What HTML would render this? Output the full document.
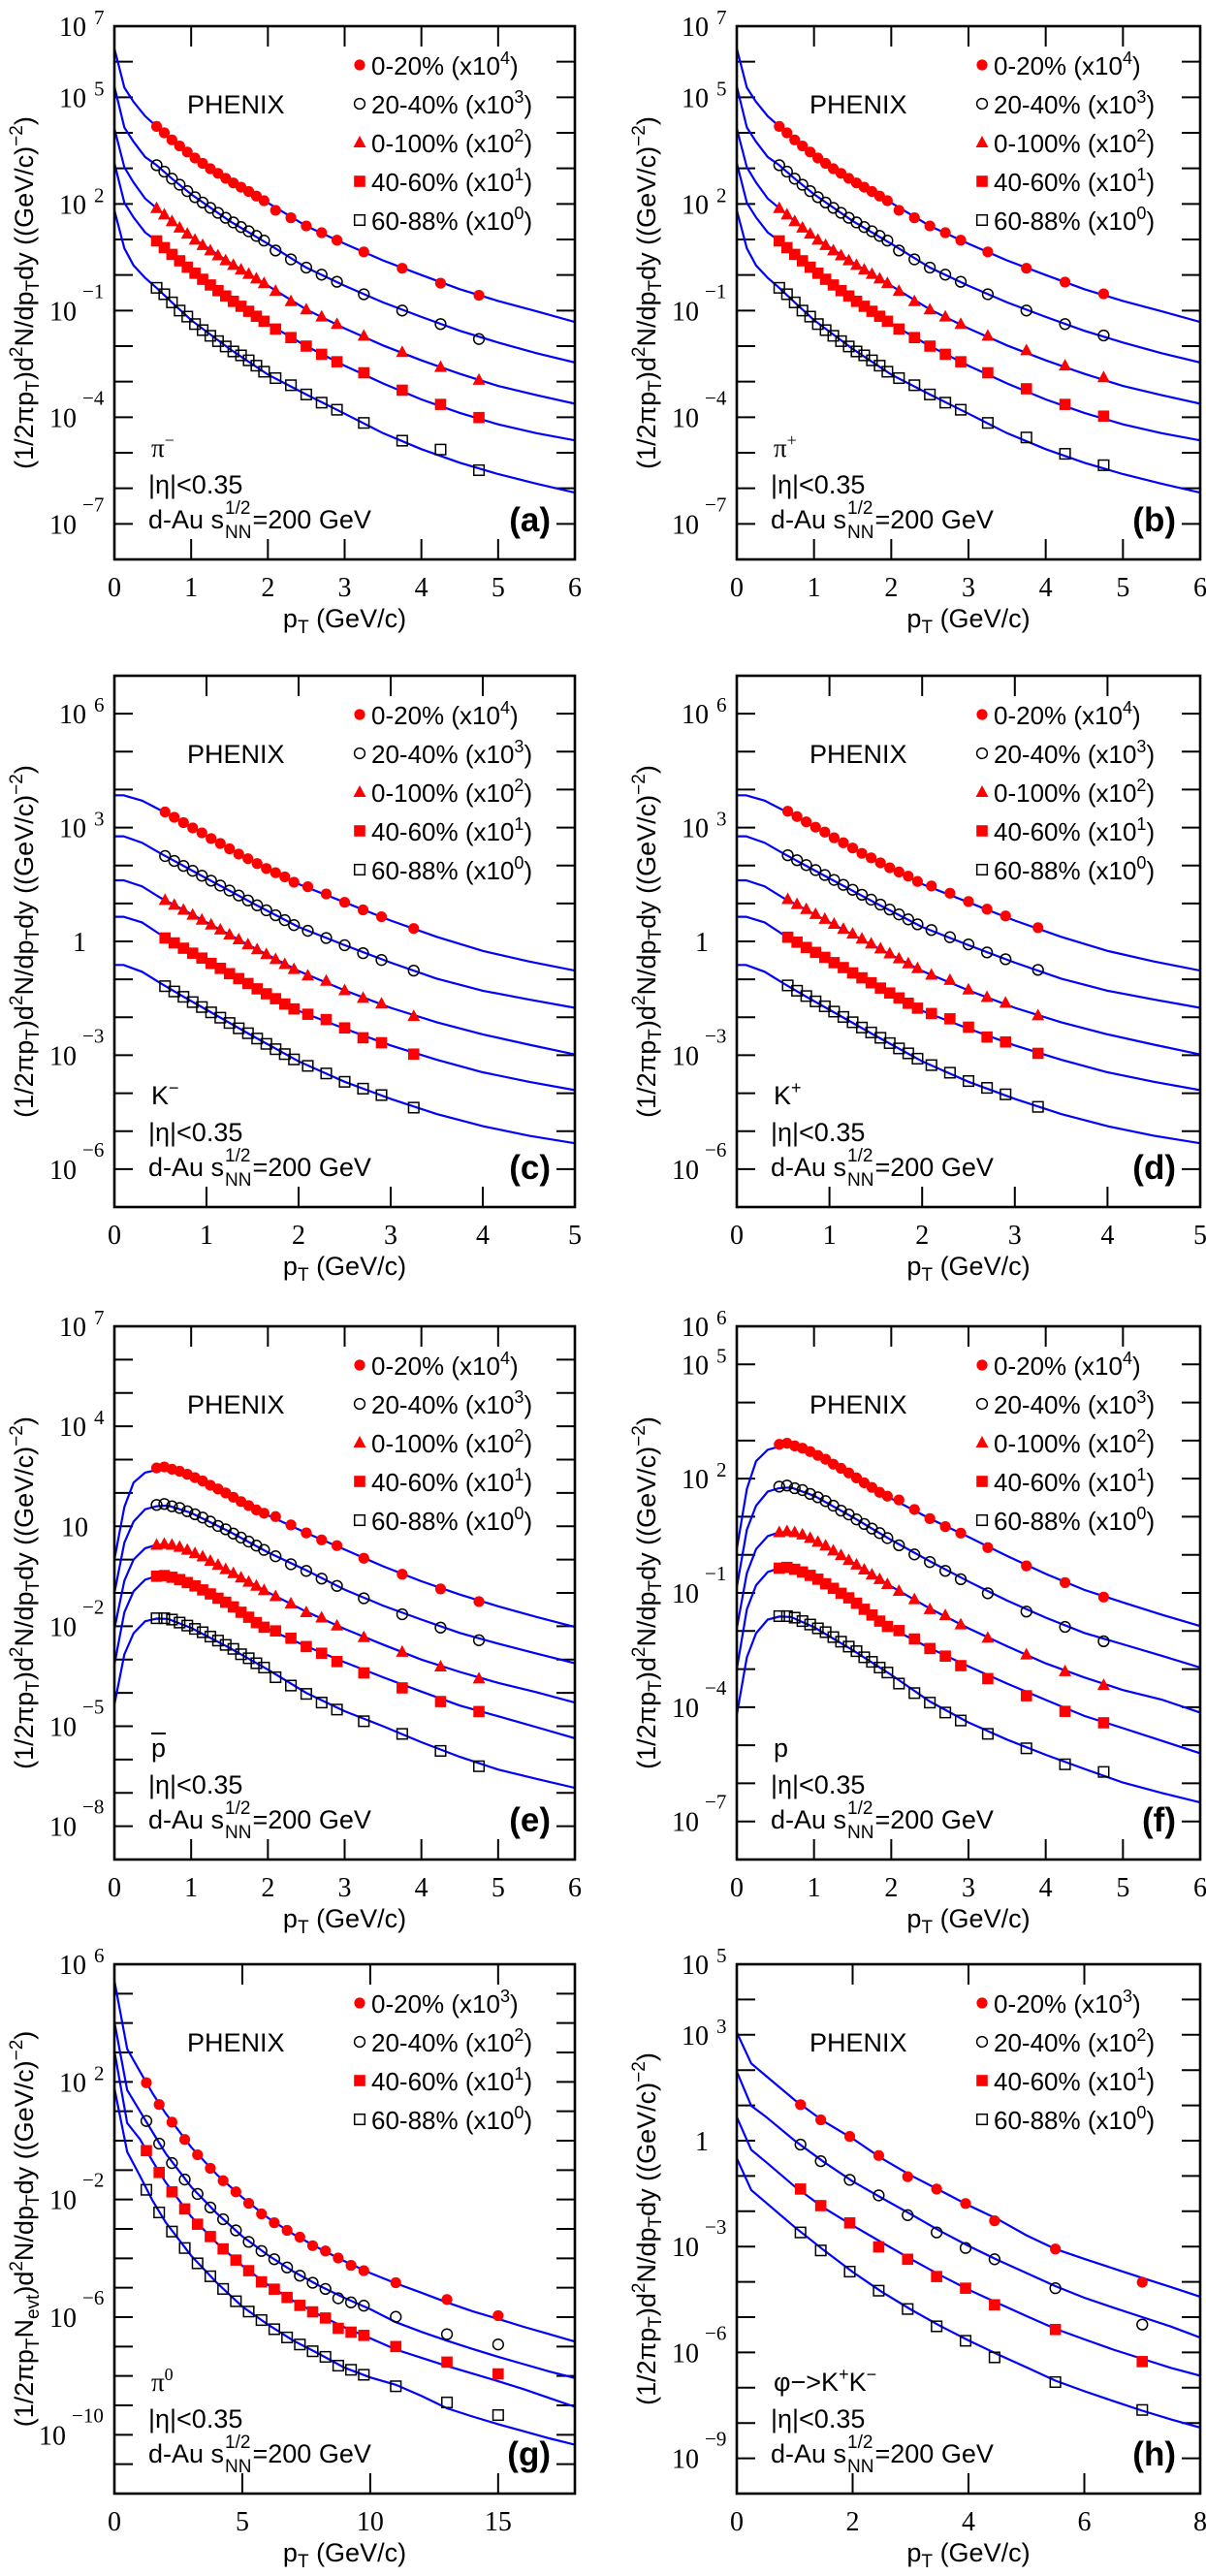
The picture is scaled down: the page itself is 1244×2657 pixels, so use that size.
<!DOCTYPE html>
<html><head><meta charset="utf-8"><title>PHENIX d-Au spectra</title>
<style>
html,body{margin:0;padding:0;background:#fff;}
svg{display:block;}
.serif{font-family:"Liberation Serif","DejaVu Serif",serif;}
.sans{font-family:"Liberation Sans","DejaVu Sans",sans-serif;}
</style></head>
<body>
<svg id="fig" xmlns="http://www.w3.org/2000/svg" width="1244" height="2657" viewBox="0 0 1244 2657">
<rect x="0" y="0" width="1244" height="2657" fill="#fff"/>
</svg>
<script>
// ---------- data (log10 of yield) ----------
const ptPi = [0.55,0.65,0.75,0.85,0.95,1.05,1.15,1.25,1.35,1.45,1.55,1.65,1.75,1.85,1.95,2.1,2.3,2.5,2.7,2.9,3.25,3.75,4.25,4.75];
const piM_0020 = [4.18,4.00,3.80,3.63,3.46,3.29,3.14,2.99,2.86,2.72,2.59,2.47,2.35,2.22,2.09,1.82,1.61,1.38,1.19,0.98,0.65,0.19,-0.23,-0.57];
const piM_2040 = [3.09,2.91,2.71,2.54,2.36,2.19,2.04,1.89,1.75,1.61,1.48,1.35,1.23,1.10,0.97,0.69,0.44,0.21,0.01,-0.19,-0.54,-1.0,-1.38,-1.80];
const piM_00100 = [1.88,1.70,1.51,1.33,1.16,0.99,0.84,0.69,0.55,0.41,0.28,0.15,0.03,-0.10,-0.23,-0.45,-0.74,-0.97,-1.17,-1.38,-1.71,-2.17,-2.59,-2.95];
const piM_4060 = [0.96,0.77,0.58,0.40,0.22,0.05,-0.12,-0.28,-0.44,-0.59,-0.74,-0.88,-1.02,-1.16,-1.30,-1.52,-1.76,-2.0,-2.23,-2.44,-2.75,-3.24,-3.64,-4.01];
const piM_6088 = [-0.36,-0.54,-0.77,-1.0,-1.17,-1.38,-1.55,-1.71,-1.86,-2.01,-2.15,-2.26,-2.40,-2.55,-2.72,-2.90,-3.10,-3.36,-3.59,-3.79,-4.16,-4.66,-4.91,-5.49];
const piP_0020 = [4.18,4.00,3.80,3.63,3.46,3.29,3.14,2.99,2.86,2.72,2.59,2.47,2.35,2.22,2.09,1.82,1.61,1.38,1.19,0.98,0.65,0.19,-0.20,-0.53];
const piP_2040 = [3.09,2.91,2.71,2.54,2.36,2.19,2.04,1.89,1.75,1.61,1.48,1.35,1.23,1.10,0.97,0.69,0.44,0.21,0.01,-0.19,-0.54,-1.0,-1.38,-1.70];
const piP_00100 = [1.88,1.70,1.51,1.33,1.16,0.99,0.84,0.69,0.55,0.41,0.28,0.15,0.03,-0.10,-0.23,-0.45,-0.74,-0.97,-1.17,-1.38,-1.71,-2.12,-2.55,-2.88];
const piP_4060 = [0.96,0.77,0.58,0.40,0.22,0.05,-0.12,-0.28,-0.44,-0.59,-0.74,-0.88,-1.02,-1.16,-1.30,-1.52,-1.76,-2.0,-2.23,-2.44,-2.75,-3.20,-3.64,-3.97];
const piP_6088 = [-0.36,-0.54,-0.77,-1.0,-1.17,-1.38,-1.55,-1.71,-1.86,-2.01,-2.15,-2.26,-2.40,-2.55,-2.72,-2.90,-3.10,-3.36,-3.59,-3.79,-4.16,-4.57,-5.03,-5.35];
const fitXPi = [0,0.13,0.25,0.4,0.55,0.75,1,1.5,2,2.5,3,3.5,4,4.5,5,5.5,6];
const fitPi_0020 = [6.37,5.27,4.87,4.47,4.18,3.80,3.37,2.65,2.03,1.38,0.88,0.41,0.0,-0.40,-0.73,-1.02,-1.32];
const fitPi_2040 = [5.30,4.15,3.75,3.32,3.09,2.71,2.27,1.52,0.88,0.21,-0.30,-0.77,-1.18,-1.57,-1.90,-2.2,-2.46];
const fitPi_00100 = [4.12,3.03,2.6,2.15,1.88,1.51,1.07,0.35,-0.30,-0.97,-1.5,-1.98,-2.4,-2.78,-3.12,-3.38,-3.62];
const fitPi_4060 = [3.15,2.03,1.62,1.2,0.96,0.58,0.14,-0.66,-1.37,-2.0,-2.55,-3.05,-3.5,-3.88,-4.2,-4.45,-4.65];
const fitPi_6088 = [1.82,0.75,0.27,-0.08,-0.36,-0.77,-1.27,-2.08,-2.8,-3.36,-3.9,-4.45,-4.9,-5.28,-5.6,-5.87,-6.12];

const ptK = [0.55,0.65,0.75,0.85,0.95,1.05,1.15,1.25,1.35,1.45,1.55,1.65,1.75,1.85,1.95,2.1,2.3,2.5,2.7,2.9,3.25];
const kM_0020 = [3.41,3.27,3.13,2.99,2.86,2.71,2.58,2.44,2.30,2.18,2.05,1.92,1.81,1.70,1.56,1.44,1.25,1.03,0.83,0.65,0.34];
const kM_2040 = [2.25,2.12,1.99,1.86,1.73,1.60,1.47,1.34,1.21,1.08,0.95,0.82,0.69,0.56,0.43,0.28,0.09,-0.10,-0.31,-0.49,-0.77];
const kM_00100 = [1.09,0.96,0.83,0.70,0.57,0.44,0.31,0.18,0.05,-0.08,-0.21,-0.34,-0.47,-0.60,-0.73,-0.90,-1.04,-1.29,-1.49,-1.64,-1.97];
const kM_4060 = [0.09,-0.04,-0.18,-0.31,-0.44,-0.58,-0.71,-0.85,-0.98,-1.11,-1.25,-1.38,-1.51,-1.65,-1.78,-1.92,-2.06,-2.28,-2.54,-2.67,-2.97];
const kM_6088 = [-1.18,-1.32,-1.46,-1.60,-1.73,-1.87,-2.01,-2.15,-2.29,-2.42,-2.56,-2.70,-2.84,-2.97,-3.11,-3.28,-3.48,-3.70,-3.88,-4.05,-4.38];
const kP_0020 = [3.43,3.29,3.15,3.01,2.88,2.73,2.60,2.46,2.32,2.20,2.07,1.94,1.83,1.72,1.58,1.46,1.27,1.05,0.85,0.67,0.36];
const kP_2040 = [2.27,2.14,2.01,1.88,1.75,1.62,1.49,1.36,1.23,1.10,0.97,0.84,0.71,0.58,0.45,0.30,0.11,-0.08,-0.29,-0.47,-0.75];
const kP_00100 = [1.11,0.98,0.85,0.72,0.59,0.46,0.33,0.20,0.07,-0.06,-0.19,-0.32,-0.45,-0.58,-0.71,-0.88,-1.02,-1.27,-1.47,-1.62,-1.95];
const kP_4060 = [0.11,-0.02,-0.16,-0.29,-0.42,-0.56,-0.69,-0.83,-0.96,-1.09,-1.23,-1.36,-1.49,-1.63,-1.76,-1.90,-2.04,-2.26,-2.52,-2.65,-2.95];
const kP_6088 = [-1.16,-1.30,-1.44,-1.58,-1.71,-1.85,-1.99,-2.13,-2.27,-2.40,-2.54,-2.68,-2.82,-2.95,-3.09,-3.26,-3.46,-3.68,-3.86,-4.03,-4.36];
const fitXK = [0,0.1,0.3,0.5,0.75,1,1.5,2,2.5,3,3.5,4,4.5,5];
const fitK_0020 = [3.85,3.85,3.71,3.46,3.13,2.79,2.12,1.51,1.03,0.55,0.12,-0.25,-0.53,-0.77];
const fitK_2040 = [2.77,2.77,2.6,2.32,1.99,1.66,1.01,0.38,-0.10,-0.56,-0.98,-1.3,-1.53,-1.75];
const fitK_00100 = [1.61,1.61,1.45,1.15,0.83,0.50,-0.15,-0.78,-1.29,-1.75,-2.13,-2.45,-2.72,-2.98];
const fitK_4060 = [0.65,0.65,0.5,0.18,-0.18,-0.51,-1.18,-1.83,-2.3,-2.74,-3.12,-3.45,-3.7,-3.92];
const fitK_6088 = [-0.62,-0.62,-0.8,-1.1,-1.46,-1.80,-2.49,-3.16,-3.70,-4.15,-4.55,-4.87,-5.12,-5.32];

const ptP = [0.55,0.65,0.75,0.85,0.95,1.05,1.15,1.25,1.35,1.45,1.55,1.65,1.75,1.85,1.95,2.1,2.3,2.5,2.7,2.9,3.25,3.75,4.25,4.75];
const pbar_0020 = [2.75,2.78,2.71,2.65,2.56,2.46,2.36,2.23,2.12,2.0,1.87,1.74,1.62,1.49,1.39,1.29,1.04,0.80,0.59,0.42,0.04,-0.44,-0.88,-1.26];
const pbar_2040 = [1.64,1.67,1.60,1.55,1.45,1.36,1.26,1.14,1.01,0.91,0.78,0.66,0.54,0.42,0.29,0.10,-0.14,-0.34,-0.57,-0.79,-1.16,-1.64,-2.04,-2.42];
const pbar_00100 = [0.44,0.47,0.44,0.38,0.29,0.19,0.09,-0.04,-0.16,-0.29,-0.41,-0.54,-0.67,-0.79,-0.92,-1.10,-1.32,-1.58,-1.74,-1.98,-2.33,-2.77,-3.21,-3.57];
const pbar_4060 = [-0.50,-0.48,-0.53,-0.60,-0.69,-0.79,-0.91,-1.03,-1.16,-1.28,-1.42,-1.58,-1.73,-1.89,-2.03,-2.14,-2.36,-2.61,-2.81,-3.06,-3.40,-3.85,-4.26,-4.56];
const pbar_6088 = [-1.76,-1.76,-1.80,-1.89,-1.98,-2.08,-2.18,-2.31,-2.43,-2.56,-2.68,-2.84,-2.96,-3.11,-3.24,-3.53,-3.78,-4.03,-4.29,-4.50,-4.85,-5.23,-5.74,-6.20];
const prot_0020 = [2.90,2.93,2.86,2.80,2.71,2.61,2.51,2.38,2.27,2.15,2.02,1.89,1.77,1.64,1.54,1.44,1.19,0.95,0.74,0.57,0.19,-0.29,-0.73,-1.11];
const prot_2040 = [1.79,1.82,1.75,1.70,1.60,1.51,1.41,1.29,1.16,1.06,0.93,0.81,0.69,0.57,0.44,0.25,0.01,-0.19,-0.42,-0.64,-1.01,-1.49,-1.89,-2.27];
const prot_00100 = [0.59,0.62,0.59,0.53,0.44,0.34,0.24,0.11,-0.01,-0.14,-0.26,-0.39,-0.52,-0.64,-0.77,-0.95,-1.17,-1.43,-1.59,-1.83,-2.18,-2.62,-3.06,-3.42];
const prot_4060 = [-0.35,-0.33,-0.38,-0.45,-0.54,-0.64,-0.76,-0.88,-1.01,-1.13,-1.27,-1.43,-1.58,-1.74,-1.88,-1.99,-2.21,-2.46,-2.66,-2.91,-3.25,-3.70,-4.11,-4.41];
const prot_6088 = [-1.61,-1.61,-1.65,-1.74,-1.83,-1.93,-2.03,-2.16,-2.28,-2.41,-2.53,-2.69,-2.81,-2.96,-3.09,-3.38,-3.63,-3.88,-4.14,-4.35,-4.70,-5.08,-5.50,-5.70];
const fitXP = [0,0.13,0.25,0.4,0.55,0.7,1,1.5,2,2.5,3,3.5,4,4.5,5,5.5,6];
const fitPbar_0020 = [0.0,1.58,2.31,2.61,2.69,2.71,2.5,1.92,1.33,0.8,0.30,-0.2,-0.65,-1.05,-1.4,-1.72,-2.02];
const fitPbar_2040 = [-1.0,0.51,1.14,1.51,1.6,1.62,1.40,0.84,0.22,-0.32,-0.9,-1.38,-1.8,-2.2,-2.52,-2.82,-3.11];
const fitPbar_00100 = [-2.08,-0.63,0.0,0.34,0.44,0.44,0.22,-0.35,-0.98,-1.56,-2.08,-2.55,-3.0,-3.37,-3.7,-3.98,-4.29];
const fitPbar_4060 = [-3.15,-1.58,-0.95,-0.6,-0.5,-0.5,-0.74,-1.37,-2.08,-2.6,-3.08,-3.53,-3.96,-4.38,-4.7,-5.03,-5.36];
const fitPbar_6088 = [-4.35,-2.84,-2.21,-1.85,-1.77,-1.78,-2.05,-2.65,-3.3,-4.0,-4.55,-5.0,-5.48,-5.92,-6.3,-6.58,-6.85];
const fitProt_0020 = [0.15,1.73,2.46,2.76,2.84,2.86,2.65,2.07,1.48,0.95,0.47,-0.03,-0.50,-0.92,-1.25,-1.57,-1.87];
const fitProt_2040 = [-0.85,0.66,1.29,1.66,1.75,1.77,1.55,0.99,0.39,-0.17,-0.70,-1.20,-1.65,-2.05,-2.35,-2.65,-2.96];
const fitProt_00100 = [-1.93,-0.48,0.15,0.49,0.59,0.59,0.37,-0.20,-0.83,-1.41,-1.93,-2.40,-2.85,-3.22,-3.55,-3.80,-4.14];
const fitProt_4060 = [-3.0,-1.43,-0.80,-0.45,-0.35,-0.35,-0.59,-1.22,-1.93,-2.45,-2.93,-3.38,-3.81,-4.23,-4.55,-4.88,-5.21];
const fitProt_6088 = [-4.2,-2.69,-2.06,-1.70,-1.62,-1.63,-1.90,-2.50,-3.15,-3.85,-4.40,-4.85,-5.25,-5.62,-5.98,-6.25,-6.5];

const ptPi0 = [1.25,1.75,2.25,2.75,3.25,3.75,4.25,4.75,5.25,5.75,6.25,6.75,7.25,7.75,8.25,8.75,9.25,9.75,11,13,15];
const pi0_0020 = [1.97,1.23,0.63,0.04,-0.48,-0.94,-1.36,-1.74,-2.13,-2.49,-2.79,-3.05,-3.28,-3.57,-3.75,-3.99,-4.24,-4.42,-4.83,-5.40,-5.95];
const pi0_2040 = [0.67,-0.10,-0.76,-1.32,-1.81,-2.27,-2.67,-3.05,-3.44,-3.75,-4.03,-4.31,-4.59,-4.83,-5.04,-5.36,-5.50,-5.61,-5.99,-6.58,-6.93];
const pi0_4060 = [-0.34,-1.08,-1.74,-2.32,-2.84,-3.26,-3.68,-4.06,-4.42,-4.80,-5.05,-5.33,-5.60,-5.82,-6.03,-6.38,-6.51,-6.62,-7.0,-7.53,-7.93];
const pi0_6088 = [-1.67,-2.44,-3.09,-3.65,-4.17,-4.61,-5.04,-5.46,-5.81,-6.10,-6.41,-6.69,-6.93,-7.16,-7.35,-7.65,-7.79,-7.96,-8.35,-8.90,-9.33];
const fitXPi0 = [0,0.5,1,1.5,2,3,4,5,6,7,8,9,10,11,12,13,14,15,16,17,18];
const fitPi0_0020 = [5.44,3.12,2.35,1.6,0.93,-0.22,-1.15,-1.93,-2.62,-3.18,-3.66,-4.1,-4.5,-4.85,-5.17,-5.5,-5.8,-6.06,-6.33,-6.58,-6.83];
const fitPi0_2040 = [4.04,1.72,1.0,0.28,-0.43,-1.57,-2.47,-3.25,-3.89,-4.45,-4.93,-5.35,-5.73,-6.17,-6.5,-6.8,-7.08,-7.35,-7.6,-7.85,-8.07];
const fitPi0_4060 = [3.05,0.6,0.05,-0.71,-1.41,-2.58,-3.48,-4.25,-4.9,-5.45,-5.92,-6.35,-6.72,-7.1,-7.38,-7.66,-7.92,-8.18,-8.45,-8.75,-9.05];
const fitPi0_6088 = [1.79,-0.38,-1.2,-2.05,-2.77,-3.91,-4.83,-5.64,-6.25,-6.8,-7.25,-7.72,-8.05,-8.3,-8.68,-9.1,-9.38,-9.64,-9.88,-10.12,-10.34];

const ptPhi = [1.1,1.45,1.95,2.45,2.95,3.45,3.95,4.45,5.5,7.0];
const phi_0020 = [1.02,0.59,0.12,-0.42,-1.02,-1.37,-1.78,-2.27,-3.07,-4.01];
const phi_2040 = [-0.11,-0.58,-1.11,-1.55,-2.11,-2.60,-3.04,-3.36,-4.18,-5.21];
const phi_4060 = [-1.37,-1.84,-2.33,-3.01,-3.36,-3.85,-4.18,-4.65,-5.35,-6.26];
const phi_6088 = [-2.60,-3.11,-3.71,-4.25,-4.77,-5.26,-5.67,-6.14,-6.84,-7.63];
const fitXPhi = [0,0.25,0.5,1,1.5,2,2.5,3,3.5,4,4.5,5,5.5,6,6.5,7,7.5,8];
const fitPhi_0020 = [3.07,2.19,1.84,1.15,0.55,0.06,-0.5,-0.98,-1.40,-1.83,-2.22,-2.68,-3.07,-3.35,-3.62,-3.89,-4.15,-4.42];
const fitPhi_2040 = [1.96,0.99,0.68,0.0,-0.6,-1.15,-1.62,-2.08,-2.55,-2.98,-3.38,-3.75,-4.12,-4.45,-4.73,-5.0,-5.27,-5.58];
const fitPhi_4060 = [0.67,-0.26,-0.6,-1.3,-1.9,-2.4,-2.88,-3.35,-3.8,-4.22,-4.6,-4.97,-5.33,-5.63,-5.92,-6.18,-6.44,-6.66];
const fitPhi_6088 = [-0.50,-1.40,-1.75,-2.45,-3.1,-3.72,-4.28,-4.78,-5.24,-5.66,-6.05,-6.42,-6.8,-7.1,-7.38,-7.65,-7.9,-8.13];

const legendCent5 = ['0-20%','20-40%','0-100%','40-60%','60-88%'];
const legendExp5 = [4,3,2,1,0];
const legendCent4 = ['0-20%','20-40%','40-60%','60-88%'];
const legendExp4 = [3,2,1,0];
const seriesKeys5 = ['0020','2040','00100','4060','6088'];
const seriesKeys4 = ['0020','2040','4060','6088'];
const xTicks6 = [0,1,2,3,4,5,6];
const xTicks5 = [0,1,2,3,4,5];
const xTicks18 = [0,5,10,15];
const xTicks8 = [0,2,4,6,8];

// ---------- layout ----------
const NS = 'http://www.w3.org/2000/svg';
const svg = document.getElementById('fig');
const M5 = ['fcircle','ocircle','ftri','fsq','osq'];
const M4 = ['fcircle','ocircle','fsq','osq'];
const LX = [118, 593], RX = [760, 1238];
const ROWS = [[27,577],[697,1245],[1368,1918],[2026,2572]];
const panels = [
 {id:'a', X:LX, Y:ROWS[0], xmax:6, ymin:-8, ymax:7, xt:xTicks6, yl:[7,5,2,-1,-4,-7], pt:ptPi, ser:[piM_0020,piM_2040,piM_00100,piM_4060,piM_6088], fx:fitXPi, fits:[fitPi_0020,fitPi_2040,fitPi_00100,fitPi_4060,fitPi_6088], n:5, sp:'π<tspan dy="-11" font-size="18">−</tspan>', spSerif:true, tag:'(a)', nevt:false},
 {id:'b', X:RX, Y:ROWS[0], xmax:6, ymin:-8, ymax:7, xt:xTicks6, yl:[7,5,2,-1,-4,-7], pt:ptPi, ser:[piP_0020,piP_2040,piP_00100,piP_4060,piP_6088], fx:fitXPi, fits:[fitPi_0020,fitPi_2040,fitPi_00100,fitPi_4060,fitPi_6088], n:5, sp:'π<tspan dy="-11" font-size="18">+</tspan>', spSerif:true, tag:'(b)', nevt:false},
 {id:'c', X:LX, Y:ROWS[1], xmax:5, ymin:-7, ymax:7, xt:xTicks5, yl:[6,3,0,-3,-6], pt:ptK, ser:[kM_0020,kM_2040,kM_00100,kM_4060,kM_6088], fx:fitXK, fits:[fitK_0020,fitK_2040,fitK_00100,fitK_4060,fitK_6088], n:5, sp:'K<tspan dy="-11" font-size="18">−</tspan>', spSerif:false, tag:'(c)', nevt:false},
 {id:'d', X:RX, Y:ROWS[1], xmax:5, ymin:-7, ymax:7, xt:xTicks5, yl:[6,3,0,-3,-6], pt:ptK, ser:[kP_0020,kP_2040,kP_00100,kP_4060,kP_6088], fx:fitXK, fits:[fitK_0020,fitK_2040,fitK_00100,fitK_4060,fitK_6088], n:5, sp:'K<tspan dy="-11" font-size="18">+</tspan>', spSerif:false, tag:'(d)', nevt:false},
 {id:'e', X:LX, Y:ROWS[2], xmax:6, ymin:-9, ymax:7, xt:xTicks6, yl:[7,4,1,-2,-5,-8], pt:ptP, ser:[pbar_0020,pbar_2040,pbar_00100,pbar_4060,pbar_6088], fx:fitXP, fits:[fitPbar_0020,fitPbar_2040,fitPbar_00100,fitPbar_4060,fitPbar_6088], n:5, sp:'p', spSerif:false, bar:true, tag:'(e)', nevt:false},
 {id:'f', X:RX, Y:ROWS[2], xmax:6, ymin:-8, ymax:6, xt:xTicks6, yl:[6,5,2,-1,-4,-7], pt:ptP, ser:[prot_0020,prot_2040,prot_00100,prot_4060,prot_6088], fx:fitXP, fits:[fitProt_0020,fitProt_2040,fitProt_00100,fitProt_4060,fitProt_6088], n:5, sp:'p', spSerif:false, tag:'(f)', nevt:false},
 {id:'g', X:LX, Y:ROWS[3], xmax:18, ymin:-12, ymax:6, xt:xTicks18, yl:[6,2,-2,-6,-10], pt:ptPi0, ser:[pi0_0020,pi0_2040,pi0_4060,pi0_6088], fx:fitXPi0, fits:[fitPi0_0020,fitPi0_2040,fitPi0_4060,fitPi0_6088], n:4, sp:'π<tspan dy="-11" font-size="18">0</tspan>', spSerif:true, tag:'(g)', nevt:true},
 {id:'h', X:RX, Y:ROWS[3], xmax:8, ymin:-10, ymax:5, xt:xTicks8, yl:[5,3,0,-3,-6,-9], pt:ptPhi, ser:[phi_0020,phi_2040,phi_4060,phi_6088], fx:fitXPhi, fits:[fitPhi_0020,fitPhi_2040,fitPhi_4060,fitPhi_6088], n:4, sp:'φ−&gt;K<tspan dy="-11" font-size="18">+</tspan><tspan dy="11">K</tspan><tspan dy="-11" font-size="18">−</tspan>', spSerif:false, tag:'(h)', nevt:false}
];

function mk(tag, attrs, parent){
  const e = document.createElementNS(NS, tag);
  for (const k in attrs) e.setAttribute(k, attrs[k]);
  parent.appendChild(e);
  return e;
}

function marker(type, cx, cy, parent){
  let el;
  if (type === 'fcircle') el = mk('circle', {cx:cx, cy:cy, r:5.6, fill:'#ff0000'}, parent);
  else if (type === 'ocircle') el = mk('circle', {cx:cx, cy:cy, r:5.4, fill:'none', stroke:'#000', 'stroke-width':1.5}, parent);
  else if (type === 'ftri') el = mk('polygon', {points:`${cx},${cy-7} ${cx+6.5},${cy+5} ${cx-6.5},${cy+5}`, fill:'#ff0000'}, parent);
  else if (type === 'fsq') el = mk('rect', {x:cx-5.8, y:cy-5.8, width:11.6, height:11.6, fill:'#ff0000'}, parent);
  else el = mk('rect', {x:cx-5.3, y:cy-5.3, width:10.6, height:10.6, fill:'none', stroke:'#000', 'stroke-width':1.5}, parent);
  return el;
}

panels.forEach(p => {
  const x0 = p.X[0], x1 = p.X[1], y0 = p.Y[0], y1 = p.Y[1];
  const xs = v => x0 + v / p.xmax * (x1 - x0);
  const ys = l => y1 - (l - p.ymin) / (p.ymax - p.ymin) * (y1 - y0);
  const g = mk('g', {}, svg);
  
  

  const cp = mk('clipPath', {id:'clip-' + p.id}, g);
  
  
  mk('rect', {x:x0, y:y0, width:x1 - x0, height:y1 - y0}, cp);

  const yt = mk('g', {stroke:'#000', 'stroke-width':2}, g);
  
  
  for (let d = p.ymin + 1; d < p.ymax; d++) {
    const y = ys(d);
    mk('line', {x1:x0, y1:y, x2:x0 + 19, y2:y}, yt);
    mk('line', {x1:x1 - 19, y1:y, x2:x1, y2:y}, yt);
  }
  const xtg = mk('g', {stroke:'#000', 'stroke-width':2}, g);
  
  
  p.xt.forEach(v => {
    if (v <= 0 || v >= p.xmax) return;
    const x = xs(v);
    mk('line', {x1:x, y1:y1, x2:x, y2:y1 - 21}, xtg);
    mk('line', {x1:x, y1:y0, x2:x, y2:y0 + 21}, xtg);
  });
  p.xt.forEach(v => {
    const t = mk('text', {x:xs(v), y:y1 + 38, 'text-anchor':'middle', 'font-size':28, class:'serif', fill:'#000'}, g);
    
    
    t.textContent = String(v);
  });
  p.yl.forEach(e => {
    const y = ys(e);
    if (e === 0) {
      const t = mk('text', {x:x0 - 29, y:y + 10, 'text-anchor':'end', 'font-size':28, class:'serif'}, g);
      
      
      t.textContent = '1';
      return;
    }
    if (e === 1) {
      const t = mk('text', {x:x0 - 27, y:y + 10, 'text-anchor':'end', 'font-size':28, class:'serif'}, g);
      
      
      t.textContent = '10';
      return;
    }
    let baseEnd, expStart, expRaise;
    if (e > 0) { baseEnd = x0 - 29; expStart = x0 - 21; expRaise = 12; }
    else if (e > -10) { baseEnd = x0 - 39; expStart = x0 - 33; expRaise = 23; }
    else { baseEnd = x0 - 50; expStart = x0 - 44; expRaise = 23; }
    const t = mk('text', {x:baseEnd, y:y + 10, 'text-anchor':'end', 'font-size':28, class:'serif'}, g);
    
    
    t.textContent = '10';
    const te = mk('text', {x:expStart, y:y + 10 - expRaise, 'font-size':21, class:'serif'}, g);
    
    
    te.textContent = (e < 0 ? '−' : '') + Math.abs(e);
  });

  const cg = mk('g', {'clip-path':'url(#clip-' + p.id + ')', fill:'none', stroke:'#0000ff', 'stroke-width':2.2}, g);
  
  
  p.fits.forEach((f, i) => {
    const d = f.map((l, k) => (k ? 'L' : 'M') + xs(p.fx[k]).toFixed(1) + ' ' + ys(l).toFixed(1)).join(' ');
    const path = mk('path', {d:d}, cg);
    
    
  });

  const mtypes = p.n === 5 ? M5 : M4;
  p.ser.forEach((s, i) => {
    const sg = mk('g', {}, g);
    
    
    s.forEach((l, k) => {
      const m = marker(mtypes[i], xs(p.pt[k]), ys(l), sg);
      
      
    });
  });

  const fr = mk('rect', {x:x0, y:y0, width:x1 - x0, height:y1 - y0, fill:'none', stroke:'#000', 'stroke-width':2.6}, g);
  
  

  const cents = p.n === 5 ? legendCent5 : legendCent4;
  const exps = p.n === 5 ? legendExp5 : legendExp4;
  const lg = mk('g', {}, g);
  
  
  cents.forEach((c, i) => {
    const cy = y0 + 40 + 40 * i;
    const m = marker(mtypes[i], x0 + 253, cy, lg);
    
    
    const t = mk('text', {x:x0 + 265, y:cy + 10, 'font-size':26, class:'sans'}, lg);
    
    
    t.innerHTML = c + ' (x10<tspan dy="-11" font-size="18">' + exps[i] + '</tspan><tspan dy="11">)</tspan>';
  });

  const ph = mk('text', {x:x0 + 75, y:y0 + 90, 'font-size':27, class:'sans'}, g);
  
  
  ph.textContent = 'PHENIX';

  const st = mk('text', {x:x0 + 38, y:y1 - 106, 'font-size':27, class:p.spSerif ? 'serif' : 'sans'}, g);
  
  
  st.innerHTML = p.sp;
  if (p.bar) {
    const bl = mk('line', {x1:x0 + 38, y1:y1 - 130, x2:x0 + 53, y2:y1 - 130, stroke:'#000', 'stroke-width':2}, g);
    
    
  }
  const et = mk('text', {x:x0 + 35, y:y1 - 68, 'font-size':27, class:'sans'}, g);
  
  
  et.textContent = '|η|<0.35';
  const sys = mk('text', {x:x0 + 35, y:y1 - 32, 'font-size':27, class:'sans'}, g);
  
  
  sys.textContent = 'd-Au s';
  const sx = x0 + 35 + sys.getComputedTextLength() + 1;
  const sup = mk('text', {x:sx, y:y1 - 47, 'font-size':19, class:'sans'}, g);
  
  
  sup.textContent = '1/2';
  const sub = mk('text', {x:sx, y:y1 - 22, 'font-size':19, class:'sans'}, g);
  
  
  sub.textContent = 'NN';
  const ex = sx + Math.max(sup.getComputedTextLength(), sub.getComputedTextLength()) + 1;
  const en = mk('text', {x:ex, y:y1 - 32, 'font-size':27, class:'sans'}, g);
  
  
  en.textContent = '=200 GeV';
  const tg = mk('text', {x:x1 - 25, y:y1 - 29, 'text-anchor':'end', 'font-size':35, 'font-weight':'bold', class:'sans'}, g);
  
  
  tg.textContent = p.tag;

  const xt = mk('text', {x:(x0 + x1) / 2, y:y1 + 70, 'text-anchor':'middle', 'font-size':27, class:'sans'}, g);
  
  
  xt.innerHTML = 'p<tspan dy="6" font-size="19">T</tspan><tspan dy="-6"> (GeV/c)</tspan>';
  const ymid = (y0 + y1) / 2;
  const ytl = mk('text', {x:0, y:0, 'text-anchor':'middle', 'font-size':27, class:'sans', transform:`translate(${x0 - 84},${ymid}) rotate(-90)`}, g);
  
  
  const pT = p.nevt ? 'p<tspan dy="6" font-size="19">T</tspan><tspan dy="-6">N</tspan><tspan dy="6" font-size="19">evt</tspan><tspan dy="-6">)d</tspan>'
                    : 'p<tspan dy="6" font-size="19">T</tspan><tspan dy="-6">)d</tspan>';
  ytl.innerHTML = '(1/2π' + pT + '<tspan dy="-11" font-size="19">2</tspan><tspan dy="11">N/dp</tspan><tspan dy="6" font-size="19">T</tspan><tspan dy="-6">dy ((GeV/c)</tspan><tspan dy="-11" font-size="19">−2</tspan><tspan dy="11">)</tspan>';
});
</script>
</body></html>
